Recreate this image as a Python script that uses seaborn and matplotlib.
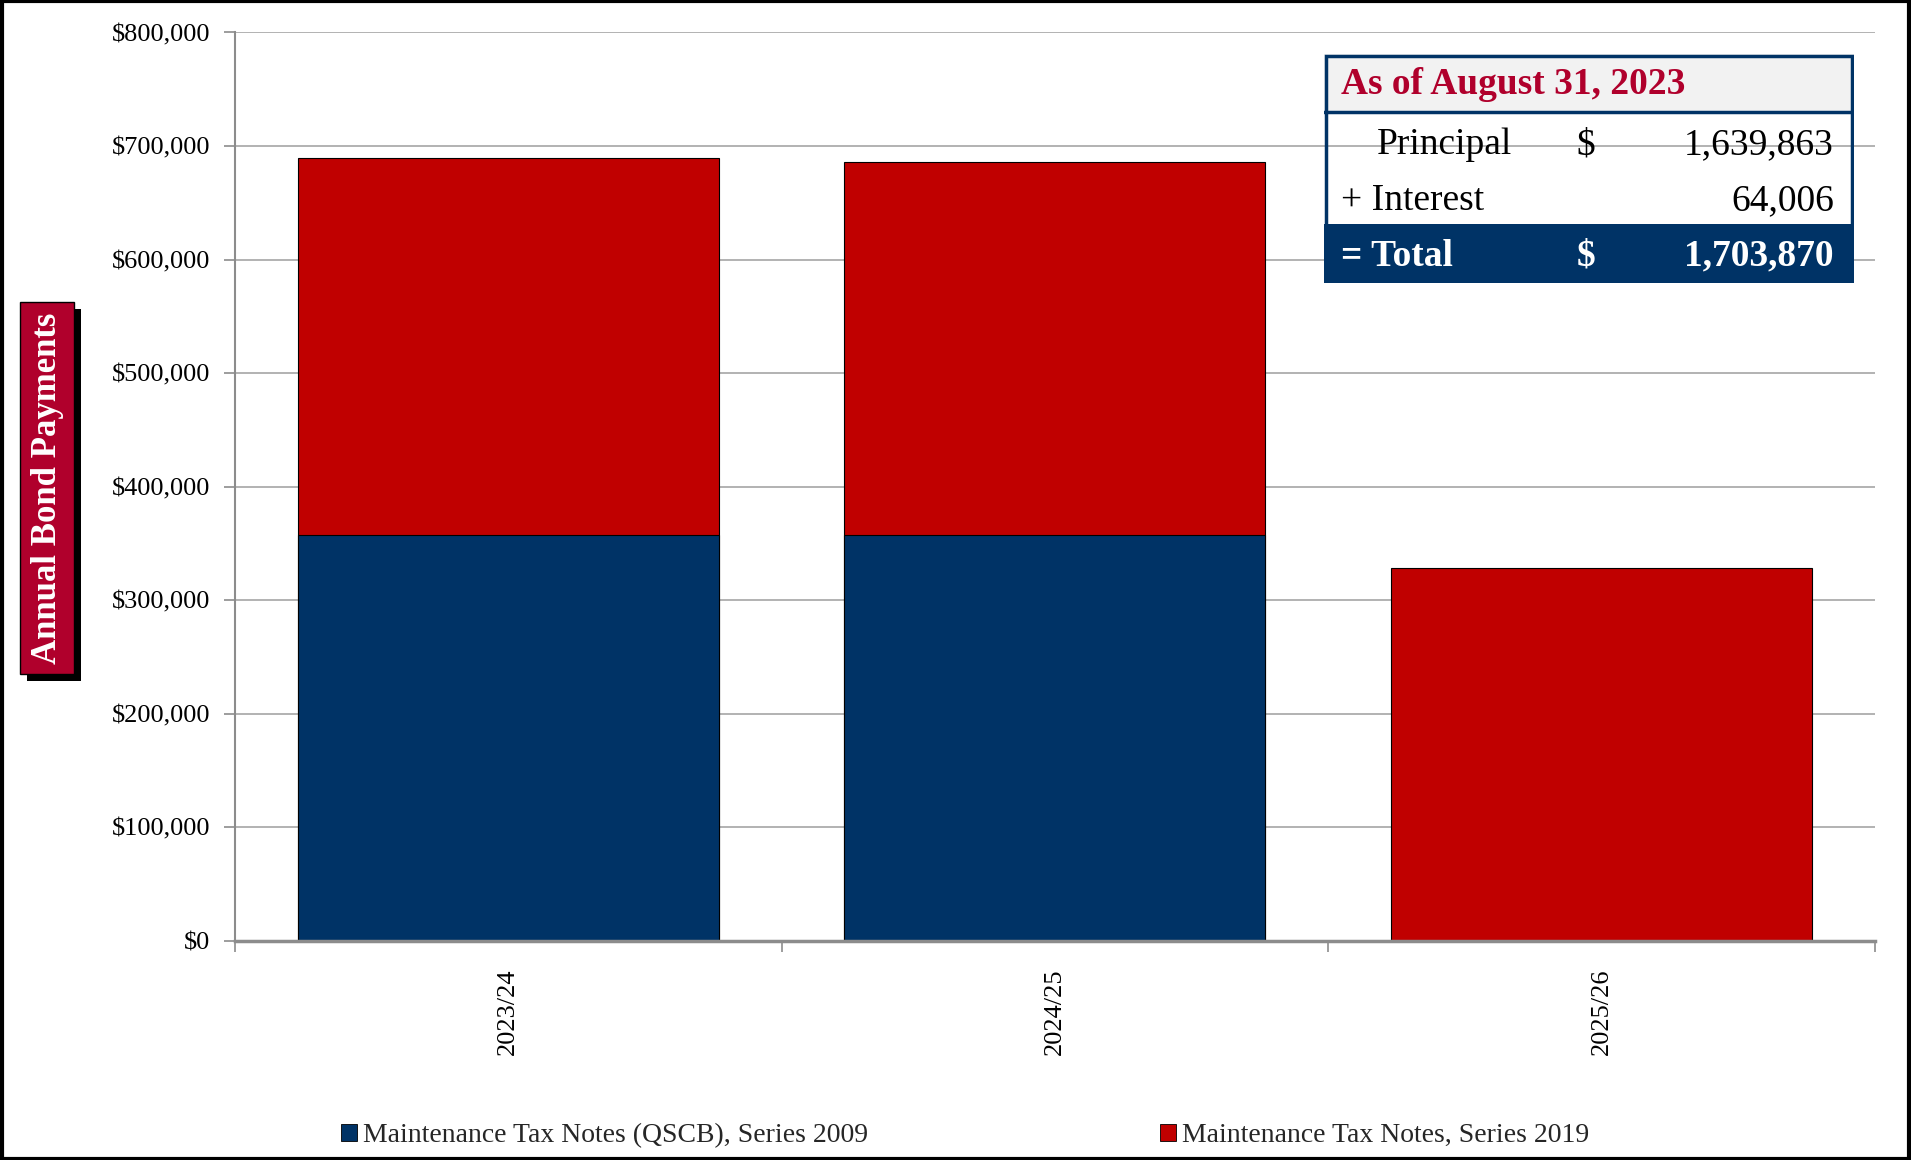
import numpy as np
import pandas as pd
import matplotlib
matplotlib.use("Agg")
import matplotlib.pyplot as plt
import matplotlib.patheffects as pe
from matplotlib.patches import Rectangle, Patch
from matplotlib.ticker import FuncFormatter, FixedLocator
import seaborn as sns

# data
years = ["2023/24", "2024/25", "2025/26"]
qscb_2009 = [357000, 357000, 0]
notes_2019 = [332600, 328700, 328570]
series_names = ["Maintenance Tax Notes (QSCB), Series 2009",
                "Maintenance Tax Notes, Series 2019"]

table_title = "As of August 31, 2023"
table_labels = ["Principal", "+ Interest", "= Total"]
table_signs = ["$", "", "$"]
table_values = ["1,639,863", "64,006", "1,703,870"]

NAVY = "#003366"
RED = "#c00000"
LABEL_RED = "#b0002c"

sns.set_theme(style="white")
plt.rcParams["font.family"] = ["Liberation Serif", "DejaVu Serif"]

df = pd.DataFrame({"year": years, "s2009": qscb_2009, "s2019": notes_2019})
df["total"] = df["s2009"] + df["s2019"]

fig = plt.figure(figsize=(19.11, 11.6), dpi=100)
ax = fig.add_axes([0.123, 0.189, 0.858, 0.783])

sns.barplot(data=df, x="year", y="total", color=RED, width=0.77,
            edgecolor="black", linewidth=0.8, saturation=1, ax=ax)
sns.barplot(data=df[df["s2009"] > 0], x="year", y="s2009", color=NAVY, width=0.77,
            edgecolor="black", linewidth=0.8, saturation=1, ax=ax, order=years)

ax.set_ylim(0, 800000)
ax.set_xlim(-0.5, 2.5)
ax.yaxis.set_major_locator(FixedLocator(np.arange(0, 800001, 100000)))
ax.yaxis.set_major_formatter(FuncFormatter(lambda v, p: f"${v:,.0f}"))
ax.grid(axis="y", color="#a6a6a6", linewidth=1.2)
ax.set_axisbelow(True)
ax.set_xlabel("")
ax.set_ylabel("")

for s in ["top", "right"]:
    ax.spines[s].set_visible(False)
ax.spines["left"].set_color("#8c8c8c")
ax.spines["left"].set_linewidth(1.5)
ax.spines["bottom"].set_color("#8c8c8c")
ax.spines["bottom"].set_linewidth(2.5)

ax.tick_params(axis="y", which="major", left=True, length=8, width=1.2,
               color="#8c8c8c", labelsize=19, pad=10)
ax.tick_params(axis="x", which="major", bottom=False, labelsize=19,
               labelrotation=90, pad=14)
ax.xaxis.set_minor_locator(FixedLocator([-0.5, 0.5, 1.5, 2.5]))
ax.tick_params(axis="x", which="minor", bottom=True, length=8, width=1.2,
               color="#8c8c8c")
for t in ax.get_yticklabels() + ax.get_xticklabels():
    t.set_color("black")

# y label box with drop shadow
ylab = fig.text(0.0247, 0.579, "Annual Bond Payments", color="white", rotation=90,
                ha="center", va="center", fontsize=25, fontweight="bold",
                bbox=dict(boxstyle="square,pad=0.3", facecolor=LABEL_RED,
                          edgecolor="black", linewidth=1))
ylab.get_bbox_patch().set_path_effects([
    pe.SimplePatchShadow(offset=(5, -5), shadow_rgbFace="black", alpha=1),
    pe.Normal()])

# summary table box
tax = fig.add_axes([1324 / 1911, 1 - 283 / 1160, 530 / 1911, 229 / 1160])
tax.set_xlim(0, 530)
tax.set_ylim(229, 0)
tax.axis("off")
tax.add_patch(Rectangle((0, 0), 530, 58, facecolor="#f2f2f2", edgecolor="none"))
tax.add_patch(Rectangle((0, 170), 530, 59, facecolor=NAVY, edgecolor="none"))
tax.add_patch(Rectangle((1.5, 1.5), 527, 226, facecolor="none", edgecolor=NAVY,
                        linewidth=2.5))
tax.plot([0, 530], [58, 58], color=NAVY, linewidth=2.5)
tax.text(17, 31, table_title, color=LABEL_RED, fontsize=27, fontweight="bold",
         va="center", ha="left")
row_y = [91, 147, 202]
for i, (lab, sign, val) in enumerate(zip(table_labels, table_signs, table_values)):
    last = i == len(table_labels) - 1
    col = "white" if last else "black"
    wt = "bold" if last else "normal"
    x0 = 53 if i == 0 else 17
    tax.text(x0, row_y[i], lab, color=col, fontweight=wt, fontsize=27,
             va="center", ha="left")
    tax.text(262, row_y[i], sign, color=col, fontweight=wt, fontsize=27,
             va="center", ha="center")
    tax.text(510, row_y[i], val, color=col, fontweight=wt, fontsize=27,
             va="center", ha="right")

# legend
handles = [Patch(facecolor=NAVY, edgecolor="black", linewidth=0.6),
           Patch(facecolor=RED, edgecolor="black", linewidth=0.6)]
fig.legend(handles, series_names, loc="center", bbox_to_anchor=(0.505, 0.021),
           ncol=2, frameon=False, fontsize=20, handlelength=0.6, handleheight=0.6,
           handletextpad=0.2, columnspacing=10.5)

# outer frame
fig.patches.append(Rectangle((0.001, 0.001), 0.998, 0.998, transform=fig.transFigure,
                             fill=False, edgecolor="black", linewidth=3))

fig.savefig("out.png", dpi=100)
